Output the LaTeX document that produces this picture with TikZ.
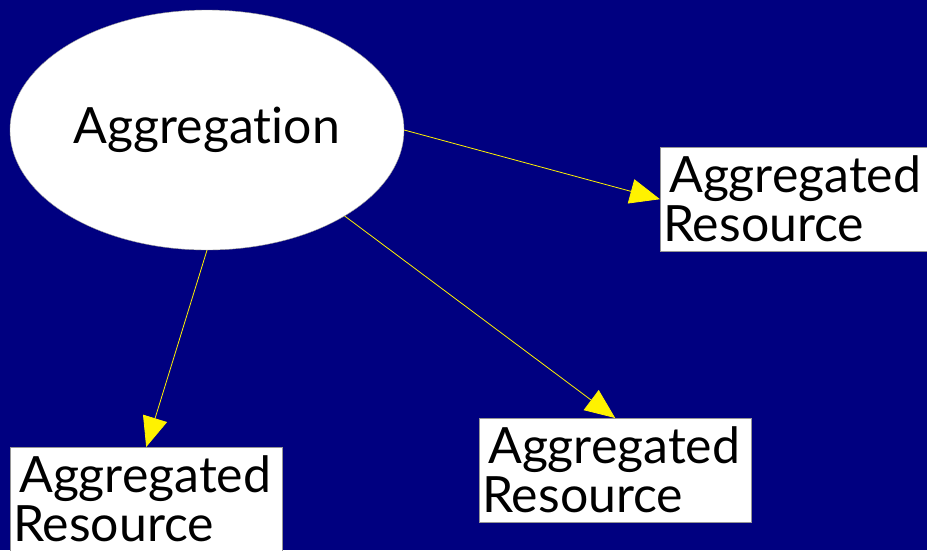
\documentclass[tikz,border=0pt]{standalone}
\usepackage{fontspec}
\setmainfont[Ligatures=NoCommon]{Lato}
\usetikzlibrary{shapes.geometric,arrows.meta}
\definecolor{navy}{RGB}{0,0,128}
\definecolor{edgegray}{RGB}{150,150,150}
\begin{document}
\begin{tikzpicture}[x=1pt,y=-1pt,
  ell/.style={ellipse,draw=edgegray,fill=white,minimum width=394pt,minimum height=240pt,inner sep=0pt,font=\fontsize{50}{50}\selectfont},
  resbox/.style={rectangle,draw=edgegray,fill=white,minimum width=272pt,minimum height=104pt,inner xsep=2pt,inner ysep=0pt,text width=266pt,align=left,font=\fontsize{50}{49}\selectfont},
  link/.style={draw=yellow,line width=0.8pt,-{Triangle[length=30pt,width=25pt,fill=yellow]}}]
\fill[navy] (0,0) rectangle (927,550);
\useasboundingbox (0,0) rectangle (927,550);
\node[ell] (agg) at (207,130) {\raisebox{-3pt}{Aggregation}};
\node[resbox,anchor=north west] (r1) at (660,147) {\hspace{6pt}Aggregated\\Resource};
\node[resbox,anchor=north west] (r2) at (479,418) {\hspace{6pt}Aggregated\\Resource};
\node[resbox,anchor=north west] (r3) at (10,447) {\hspace{6pt}Aggregated\\Resource};
\draw[link] (agg.east) -- (r1.west);
\draw[link] (agg.-32) -- (r2.north);
\draw[link] (agg.south) -- (r3.north);
\end{tikzpicture}
\end{document}
